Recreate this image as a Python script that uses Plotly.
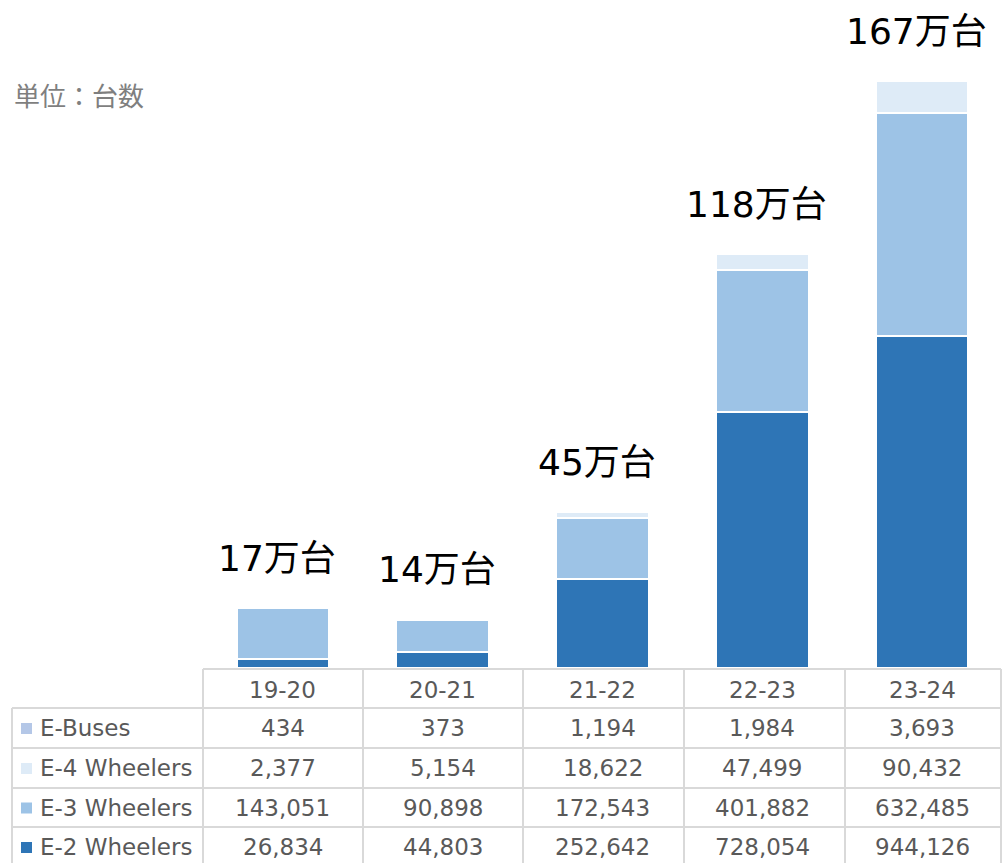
import plotly.graph_objects as go

# データ（単位：台数）
years = ["19-20", "20-21", "21-22", "22-23", "23-24"]
e_buses = [434, 373, 1194, 1984, 3693]
e_4w = [2377, 5154, 18622, 47499, 90432]
e_3w = [143051, 90898, 172543, 401882, 632485]
e_2w = [26834, 44803, 252642, 728054, 944126]

# 凡例・表の行（上から）
rows = [
    ("E-Buses", e_buses, "#B4C7E7"),
    ("E-4 Wheelers", e_4w, "#DEEBF7"),
    ("E-3 Wheelers", e_3w, "#9DC3E6"),
    ("E-2 Wheelers", e_2w, "#2E75B6"),
]

W, H = 1002, 863
FONT = "DejaVu Sans, Noto Sans CJK JP"
GRID = "#D9D9D9"
TXT = "#595959"

plot_left = 203
plot_bottom = 668
row_edges = [669, 708, 748, 788, 827, 866]
col_edges = [203, 363, 523, 684, 845, 1001]


def px_x(v):
    return v / W


def px_y(v):
    return 1 - v / H


fig = go.Figure()

# 積み上げ順：下から E-2, E-3, E-4, E-Buses
for name, vals, color in reversed(rows):
    fig.add_trace(go.Bar(
        x=years,
        y=vals,
        name=name,
        marker=dict(color=color, line=dict(color="white", width=2)),
        width=0.58,
        showlegend=False,
    ))

totals = [sum(v) for v in zip(e_buses, e_4w, e_3w, e_2w)]

annotations = []
# 合計ラベル
for yr, t in zip(years, totals):
    annotations.append(dict(
        x=yr, y=t, xref="x", yref="y",
        text=f"{round(t / 10000)}万台",
        showarrow=False, xanchor="center", yanchor="bottom", yshift=26, xshift=-6,
        font=dict(family=FONT, size=36, color="black"),
    ))

# 単位
annotations.append(dict(
    x=px_x(12), y=px_y(97), xref="paper", yref="paper",
    text="単位：台数", showarrow=False, xanchor="left", yanchor="middle",
    font=dict(family=FONT, size=26, color="#7F7F7F"),
))

# 表のヘッダー
hdr_y = px_y((row_edges[0] + row_edges[1]) / 2 + 1)
for yr in years:
    annotations.append(dict(
        x=yr, y=hdr_y, xref="x", yref="paper", text=yr, showarrow=False,
        xanchor="center", yanchor="middle",
        font=dict(family=FONT, size=23, color=TXT),
    ))

shapes = []
# 表の行
for i, (name, vals, color) in enumerate(rows):
    top, bot = row_edges[i + 1], row_edges[i + 2]
    mid = (top + bot) / 2 if i < 3 else 847
    cy = px_y(mid)
    for yr, v in zip(years, vals):
        annotations.append(dict(
            x=yr, y=cy, xref="x", yref="paper", text=f"{v:,}", showarrow=False,
            xanchor="center", yanchor="middle",
            font=dict(family=FONT, size=23, color=TXT),
        ))
    annotations.append(dict(
        x=px_x(38), y=cy, xref="paper", yref="paper", text=name, showarrow=False,
        xanchor="left", yanchor="middle", font=dict(family=FONT, size=23, color=TXT),
    ))
    shapes.append(dict(
        type="rect", xref="paper", yref="paper",
        x0=px_x(21), x1=px_x(32), y0=px_y(mid - 5), y1=px_y(mid + 6),
        fillcolor=color, line=dict(width=0),
    ))

# 罫線
line_style = dict(color=GRID, width=2)
for j, yv in enumerate(row_edges[:-1]):
    x0 = plot_left if j == 0 else 12
    shapes.append(dict(type="line", xref="paper", yref="paper",
                       x0=px_x(x0), x1=px_x(col_edges[-1]),
                       y0=px_y(yv), y1=px_y(yv), line=line_style))
for xv in col_edges:
    shapes.append(dict(type="line", xref="paper", yref="paper",
                       x0=px_x(xv), x1=px_x(xv),
                       y0=px_y(row_edges[0]), y1=0, line=line_style))
shapes.append(dict(type="line", xref="paper", yref="paper",
                   x0=px_x(12), x1=px_x(12),
                   y0=px_y(row_edges[1]), y1=0, line=line_style))

# y軸：基線 668px、167万台の上端が ~80px
y_top = totals[-1] * plot_bottom / (plot_bottom - 80)

fig.update_layout(
    width=W, height=H,
    margin=dict(l=0, r=0, t=0, b=0),
    barmode="stack",
    bargap=0.42,
    plot_bgcolor="white",
    paper_bgcolor="white",
    xaxis=dict(domain=[px_x(plot_left), 1], showticklabels=False, showgrid=False,
               zeroline=False, showline=False, range=[-0.5, 4.5]),
    yaxis=dict(domain=[px_y(plot_bottom), 1], range=[0, y_top], visible=False),
    annotations=annotations,
    shapes=shapes,
)

fig.write_html("out.html", config={"displayModeBar": False},
               post_script="document.body.style.margin='0';")
